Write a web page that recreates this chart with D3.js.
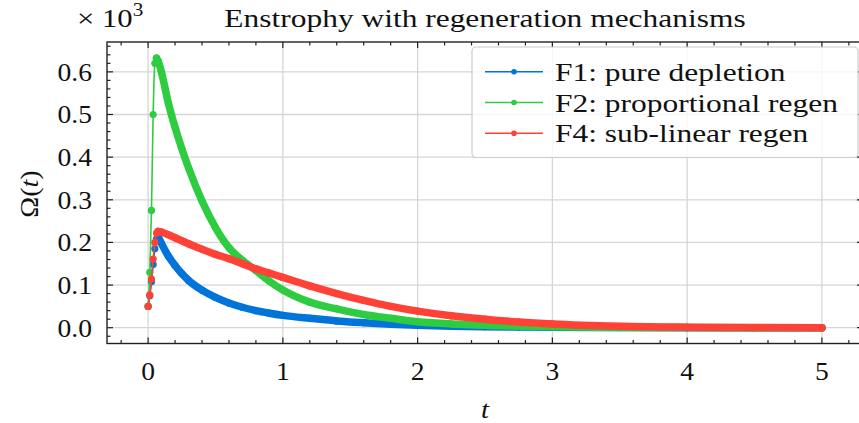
<html>
<head>
  <script src="https://d3js.org/d3.v7.min.js"></script>
  <style>
    body { margin: 0; background: white; }
    svg { display: block; }
  </style>
</head>
<body>
  <div id="chart"></div>
</body>
<script>
  // time samples and enstrophy values (x 10^3)
  var tValues = [0, 0.0125, 0.025, 0.0375, 0.05, 0.0625, 0.075, 0.1, 0.15, 0.2, 0.25, 0.3,
    0.4, 0.5, 0.6, 0.7, 0.8, 0.9, 1.0, 1.2, 1.4, 1.6, 1.8, 2.0, 2.25, 2.5, 2.75, 3.0,
    3.5, 4.0, 4.5, 5.0];
  var f1Values = [0.05, 0.075, 0.108, 0.148, 0.185, 0.208, 0.214, 0.197, 0.168, 0.146, 0.127, 0.111,
    0.088, 0.071, 0.058, 0.048, 0.040, 0.034, 0.029, 0.022, 0.016, 0.0118, 0.0083, 0.0057, 0.0036, 0.0023, 0.0014, 0.0009,
    0.0004, 0.0002, 0.0001, 0];
  var f2Values = [0.05, 0.13, 0.275, 0.50, 0.62, 0.632, 0.625, 0.598, 0.527, 0.47, 0.42, 0.375,
    0.297, 0.235, 0.188, 0.158, 0.134, 0.109, 0.0885, 0.06, 0.044, 0.031, 0.022, 0.014, 0.009, 0.0055, 0.0035, 0.002,
    0.0008, 0.0003, 0.0001, 0];
  var f4Values = [0.05, 0.077, 0.114, 0.161, 0.20, 0.222, 0.226, 0.224, 0.218, 0.211, 0.204, 0.197,
    0.184, 0.172, 0.162, 0.15, 0.138, 0.128, 0.118, 0.098, 0.08, 0.064, 0.05, 0.039, 0.028, 0.02, 0.0135, 0.0088,
    0.0035, 0.0013, 0.0004, 0.0001];

  var seriesNames = ["F1: pure depletion", "F2: proportional regen", "F4: sub-linear regen"];
  var seriesColors = ["#0074D9", "#2ECC40", "#FF4136"];
  var seriesValues = [f1Values, f2Values, f4Values];

  var xTicks = [0, 1, 2, 3, 4, 5];
  var yTicks = [0.0, 0.1, 0.2, 0.3, 0.4, 0.5, 0.6];

  var width = 859, height = 423;
  var plot = {left: 107, right: 863, top: 42, bottom: 343.5};
  var fontSize = 26;
  var serif = "'Liberation Serif', 'Times New Roman', 'DejaVu Serif', serif";

  var svg = d3.select("#chart").append("svg")
    .attr("width", width).attr("height", height)
    .attr("font-family", serif);
  svg.append("rect").attr("width", width).attr("height", height).style("fill", "white");

  var x = d3.scaleLinear().domain([-0.305, 5.305]).range([plot.left, plot.right]);
  var y = d3.scaleLinear().domain([-0.037, 0.670]).range([plot.bottom, plot.top]);

  // text helper: the LaTeX font is wider than the installed one, so stretch a bit
  function addText(parent, tx, ty, anchor, sx) {
    return parent.append("text")
      .attr("transform", "translate(" + tx + "," + ty + ") scale(" + sx + ",1)")
      .attr("text-anchor", anchor)
      .attr("font-family", serif)
      .attr("font-size", fontSize)
      .attr("fill", "#111");
  }

  // grid
  var grid = svg.append("g");
  grid.selectAll(".vg").data(xTicks).enter().append("line")
    .attr("x1", d => x(d)).attr("x2", d => x(d))
    .attr("y1", plot.top).attr("y2", plot.bottom)
    .style("stroke", "#d6d6d6").style("stroke-width", 1.3);
  grid.selectAll(".hg").data(yTicks).enter().append("line")
    .attr("x1", plot.left).attr("x2", plot.right)
    .attr("y1", d => y(d)).attr("y2", d => y(d))
    .style("stroke", "#d6d6d6").style("stroke-width", 1.3);

  // series: thin line, dense marker band after the peak, markers
  var thinLine = d3.line().x(d => x(d.t)).y(d => y(d.v)).curve(d3.curveMonotoneX);
  svg.append("clipPath").attr("id", "clip").append("rect")
    .attr("x", plot.left).attr("y", plot.top)
    .attr("width", plot.right - plot.left).attr("height", plot.bottom - plot.top);
  var dataLayer = svg.append("g").attr("clip-path", "url(#clip)");

  seriesValues.forEach(function(vals, i) {
    var pts = tValues.map((t, j) => ({t: t, v: vals[j]}));
    var peak = d3.maxIndex(vals);
    var g = dataLayer.append("g");
    g.append("path").datum(pts).attr("d", thinLine)
      .style("fill", "none").style("stroke", seriesColors[i]).style("stroke-width", 1.6);
    g.append("path").datum(pts.slice(peak)).attr("d", thinLine)
      .style("fill", "none").style("stroke", seriesColors[i]).style("stroke-width", 7.5)
      .style("stroke-linecap", "round").style("stroke-linejoin", "round");
    g.selectAll("circle").data(pts).enter().append("circle")
      .attr("cx", d => x(d.t)).attr("cy", d => y(d.v)).attr("r", 3.6)
      .style("fill", seriesColors[i]);
  });

  // axes with inward ticks on all four sides
  var axes = svg.append("g");
  var xMinor = d3.range(-0.2, 5.3, 0.2).filter(d => Math.abs(d - Math.round(d)) > 1e-6);
  var yMinor = d3.range(-0.02, 0.67, 0.02).filter(d => Math.abs(d * 10 - Math.round(d * 10)) > 1e-6);

  function ticksX(vals, len) {
    axes.selectAll(null).data(vals).enter().append("line")
      .attr("x1", d => x(d)).attr("x2", d => x(d))
      .attr("y1", plot.bottom).attr("y2", plot.bottom - len)
      .style("stroke", "#222").style("stroke-width", 1.2);
    axes.selectAll(null).data(vals).enter().append("line")
      .attr("x1", d => x(d)).attr("x2", d => x(d))
      .attr("y1", plot.top).attr("y2", plot.top + len)
      .style("stroke", "#222").style("stroke-width", 1.2);
  }
  function ticksY(vals, len) {
    axes.selectAll(null).data(vals).enter().append("line")
      .attr("x1", plot.left).attr("x2", plot.left + len)
      .attr("y1", d => y(d)).attr("y2", d => y(d))
      .style("stroke", "#222").style("stroke-width", 1.2);
    axes.selectAll(null).data(vals).enter().append("line")
      .attr("x1", plot.right).attr("x2", plot.right - len)
      .attr("y1", d => y(d)).attr("y2", d => y(d))
      .style("stroke", "#222").style("stroke-width", 1.2);
  }
  ticksX(xTicks, 6); ticksX(xMinor, 3.5);
  ticksY(yTicks, 6); ticksY(yMinor, 3.5);

  axes.append("rect").attr("x", plot.left).attr("y", plot.top)
    .attr("width", plot.right - plot.left).attr("height", plot.bottom - plot.top)
    .style("fill", "none").style("stroke", "#222").style("stroke-width", 1.4);

  // tick labels
  xTicks.forEach(function(d) {
    addText(svg, x(d), 380, "middle", 1.06).text(d);
  });
  yTicks.forEach(function(d) {
    addText(svg, 92, y(d) + 9, "end", 1.06).text(d3.format(".1f")(d));
  });

  // offset text, title, axis labels
  var off = addText(svg, 77, 27, "start", 1.18);
  off.append("tspan").text("\u00d7 10");
  off.append("tspan").attr("dy", -11).attr("font-size", 18).text("3");

  addText(svg, 485, 27, "middle", 1.21).text("Enstrophy with regeneration mechanisms");

  addText(svg, 485, 418, "middle", 1.1).attr("font-style", "italic").text("t");

  var yl = svg.append("text").attr("transform", "translate(38,194) rotate(-90) scale(1.08,1)")
    .attr("text-anchor", "middle").attr("font-family", serif)
    .attr("font-size", fontSize).attr("fill", "#111");
  yl.append("tspan").text("\u03a9(");
  yl.append("tspan").attr("font-style", "italic").text("t");
  yl.append("tspan").text(")");

  // legend
  var legend = svg.append("g");
  legend.append("rect").attr("x", 472).attr("y", 47).attr("width", 386).attr("height", 110.5)
    .attr("rx", 4).style("fill", "white").style("fill-opacity", 0.8)
    .style("stroke", "#cccccc").style("stroke-width", 1.2);
  seriesNames.forEach(function(name, i) {
    var ly = 71.7 + i * 30.8;
    legend.append("line").attr("x1", 485).attr("x2", 543).attr("y1", ly).attr("y2", ly)
      .style("stroke", seriesColors[i]).style("stroke-width", 1.6);
    legend.append("circle").attr("cx", 514).attr("cy", ly).attr("r", 2.8)
      .style("fill", seriesColors[i]);
    addText(legend, 555, ly + 9, "start", 1.21).text(name);
  });
</script>
</html>
